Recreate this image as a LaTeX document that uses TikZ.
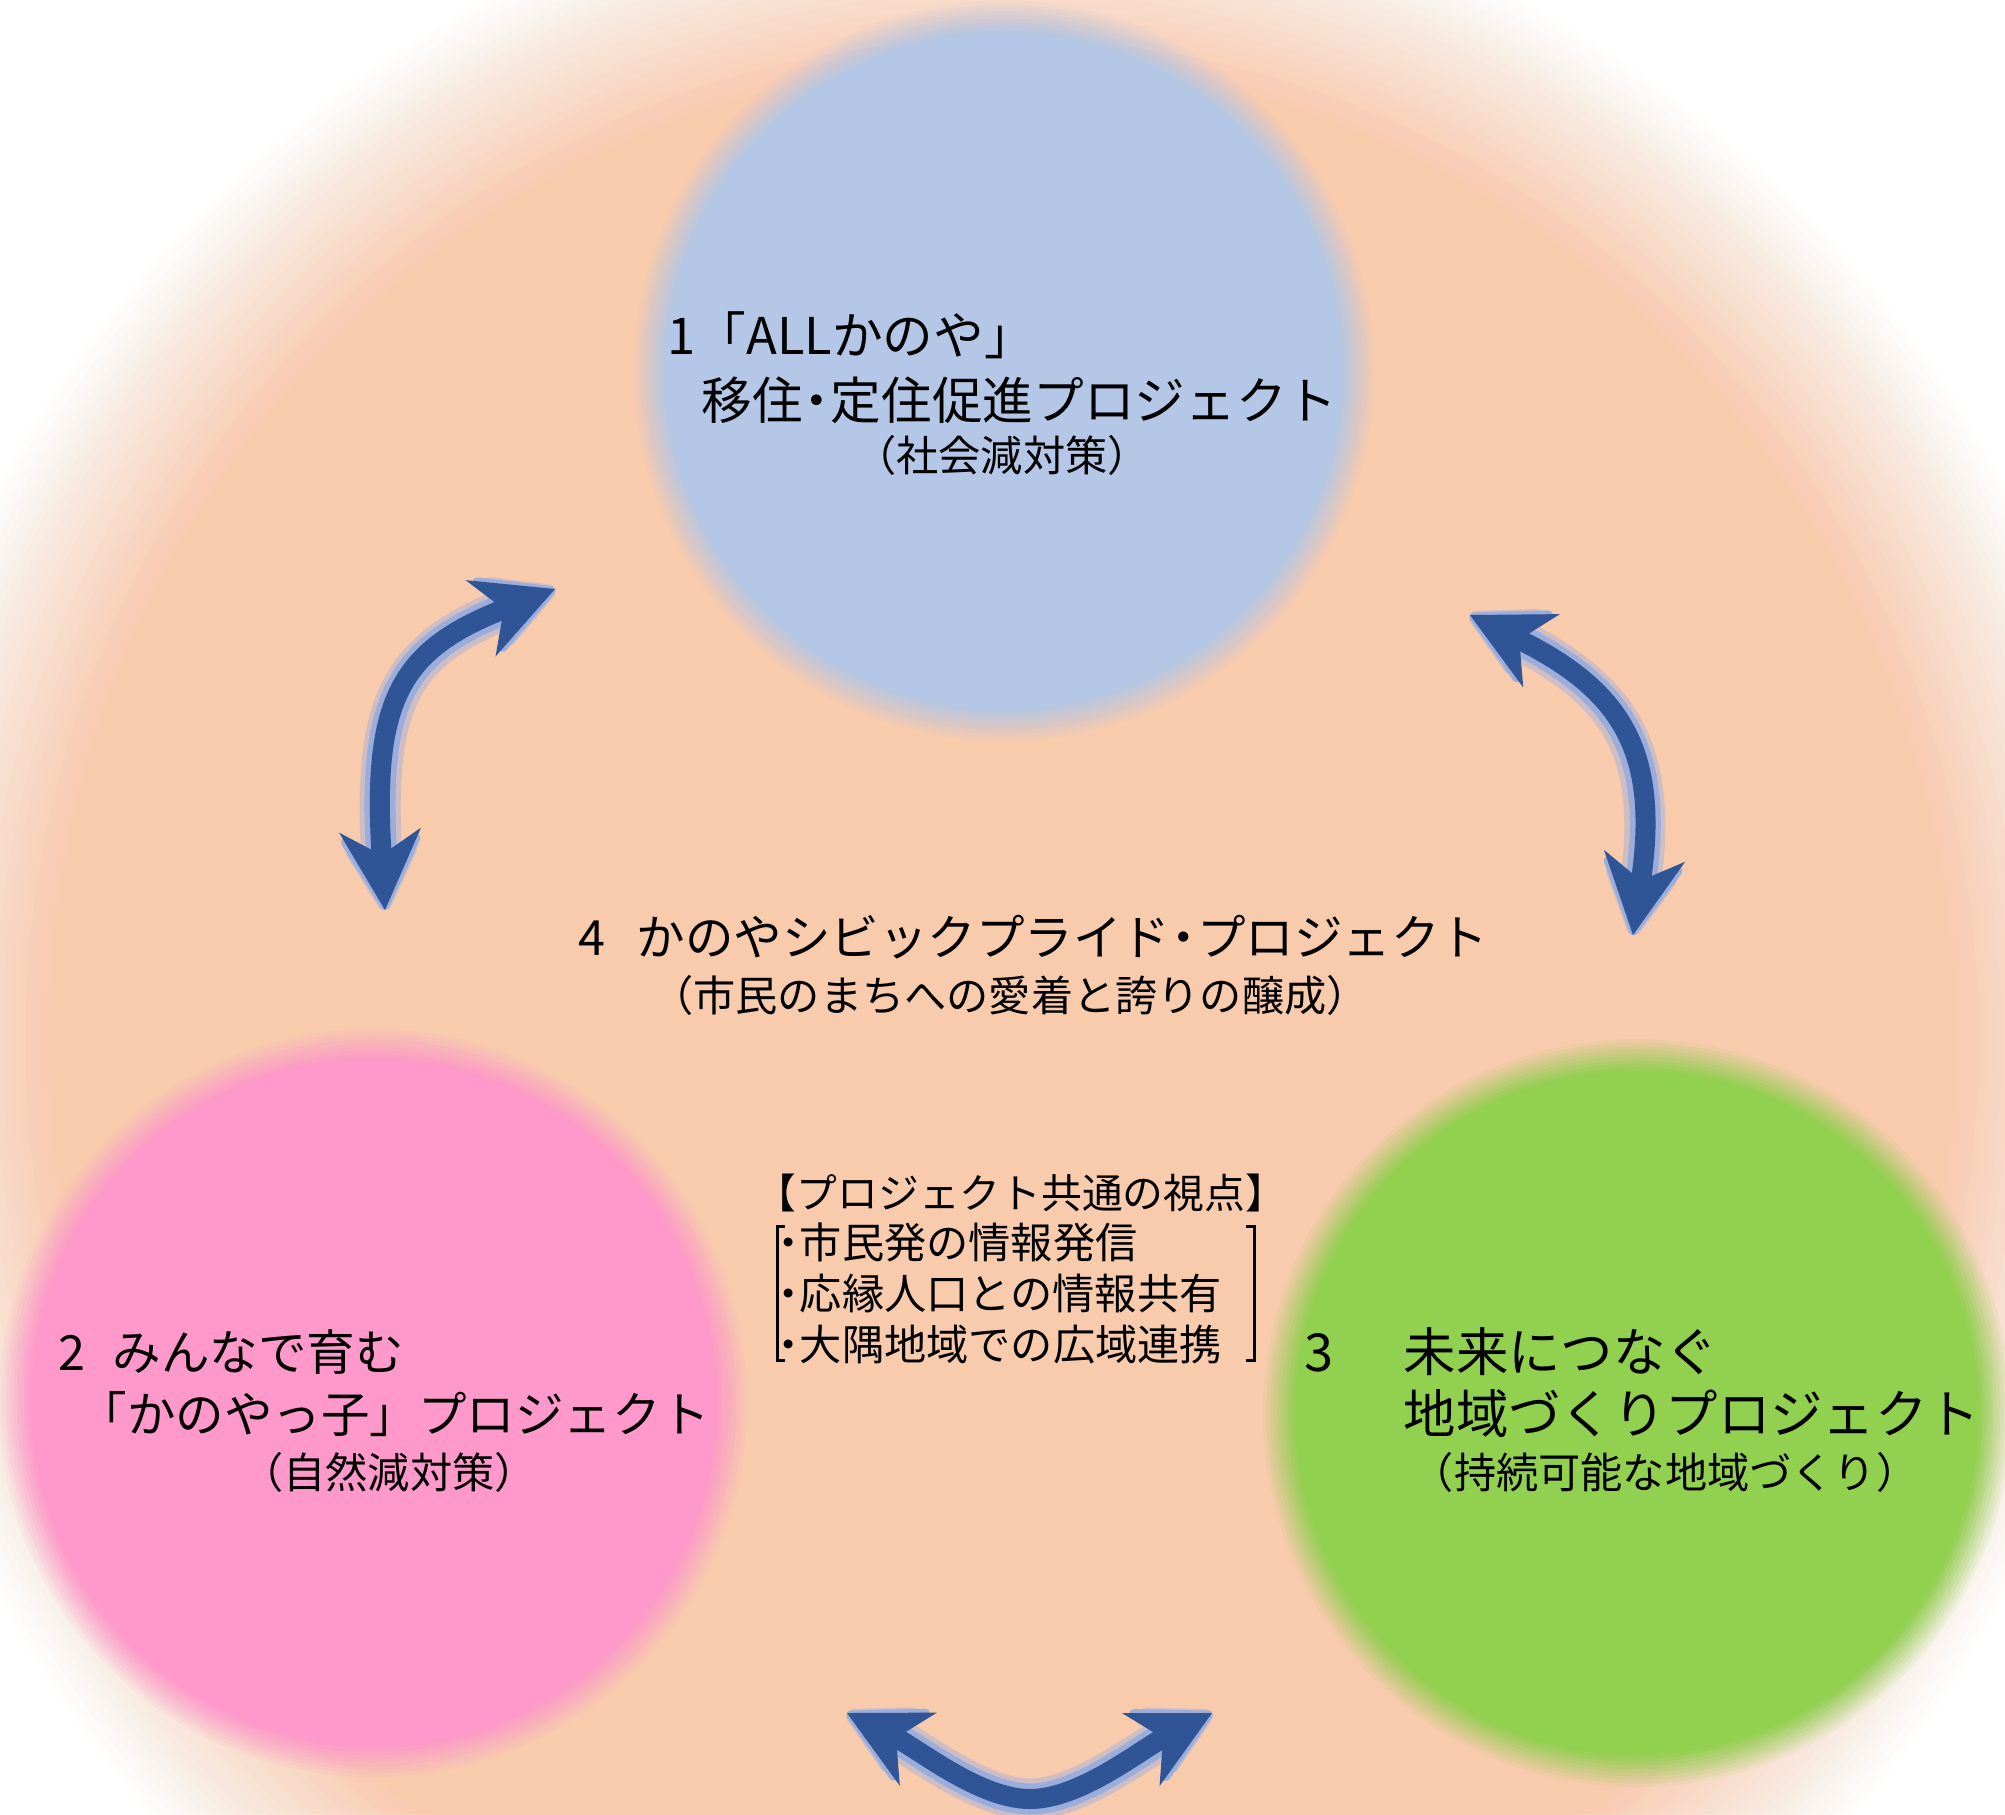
\documentclass[tikz,border=0pt]{standalone}
\usepackage{fontspec}
\setmainfont{Noto Sans CJK JP}
\usetikzlibrary{arrows.meta}
\definecolor{peach}{HTML}{F8CBAD}
\definecolor{cblue}{HTML}{B4C7E7}
\definecolor{cpink}{HTML}{FF99CC}
\definecolor{cgreen}{HTML}{92D050}
\definecolor{arrowc}{HTML}{2F5597}
\definecolor{glowc}{HTML}{9AADDB}
\newcommand\mysoftdisc[7]{%
  \foreach \j in {1,...,#7}{%
    \pgfmathsetmacro\myop{1/\j}%
    \pgfmathsetmacro\myrx{#3-#6+(\j-1)*2*#6/(#7-1)}%
    \pgfmathsetmacro\myry{#4-#6+(\j-1)*2*#6/(#7-1)}%
    \fill[#5, fill opacity=\myop] (#1,#2) ellipse [x radius=\myrx, y radius=\myry];
  }}
\newcommand\nd{\makebox[0.55em][c]{・}}
\tikzset{
  big/.style={font=\fontsize{13.8pt}{16pt}\selectfont, inner sep=0pt, anchor=west, text height=12.1pt, text depth=1.7pt},
  bigt/.style={big, font=\fontsize{14.4pt}{17pt}\selectfont, text height=12.7pt, text depth=1.8pt},
  bigr/.style={big, font=\fontsize{14.9pt}{17pt}\selectfont, text height=13.1pt, text depth=1.8pt},
  small/.style={font=\fontsize{12pt}{14pt}\selectfont, inner sep=0pt, anchor=west, text height=10.6pt, text depth=1.4pt},
  boxtitle/.style={small, font=\fontsize{11.6pt}{14pt}\selectfont},
  bracketline/.style={draw=black, line width=0.3mm},
  glowouter/.style={draw=glowc!45!peach, line width=4.1mm, line cap=round,
    arrows={Stealth[length=8.6mm,width=9.2mm,inset=2.6mm,line width=1.9mm,round]-Stealth[length=8.6mm,width=9.2mm,inset=2.6mm,line width=1.9mm,round]}},
  glowarrow/.style={draw=glowc, line width=3.1mm, line cap=round,
    arrows={Stealth[length=8.6mm,width=9.2mm,inset=2.6mm,line width=0.9mm,round]-Stealth[length=8.6mm,width=9.2mm,inset=2.6mm,line width=0.9mm,round]}},
  mainarrow/.style={draw=arrowc, line width=2mm,
    arrows={Stealth[length=8mm,width=8.2mm,inset=2.5mm,line width=0pt]-Stealth[length=8mm,width=8.2mm,inset=2.5mm,line width=0pt]}},
}
\begin{document}
\begin{tikzpicture}[x={(0.01cm,0)}, y={(0,-0.01cm)}]
\useasboundingbox (0,0) rectangle (2005,1814);
\fill[white] (0,0) rectangle (2005,1814);
\begin{scope}
\clip (0,0) rectangle (2005,1814);
% large background ellipse
\mysoftdisc{1002}{1040}{1035}{1060}{peach}{105}{28}
% circles
\coordinate (c1) at (1004,371);
\coordinate (c2) at (373,1403);
\coordinate (c3) at (1637,1413);
\mysoftdisc{1004}{371}{354}{354}{cblue}{16}{10}
\mysoftdisc{373}{1403}{358}{358}{cpink}{16}{10}
\mysoftdisc{1637}{1413}{358}{358}{cgreen}{16}{10}
\end{scope}
% arrow end points
\coordinate (L1) at (555,589);
\coordinate (L2) at (385,910);
\coordinate (R1) at (1470,615);
\coordinate (R2) at (1633,935);
\coordinate (B1) at (847,1713);
\coordinate (B2) at (1212,1713);
\coordinate (Bm) at (1030,1799);
% glow
\foreach \g in {glowouter,glowarrow}{
\draw[\g] (L2) .. controls (372,700) and (400,650) .. (L1);
\draw[\g] (R1) .. controls (1620,690) and (1660,750) .. (R2);
\draw[\g] (B1) .. controls (920,1750) and (980,1799) .. (Bm) .. controls (1080,1799) and (1140,1750) .. (B2);
}
% arrows
\draw[mainarrow] (L2) .. controls (372,700) and (400,650) .. (L1);
\draw[mainarrow] (R1) .. controls (1620,690) and (1660,750) .. (R2);
\draw[mainarrow] (B1) .. controls (920,1750) and (980,1799) .. (Bm) .. controls (1080,1799) and (1140,1750) .. (B2);
% texts
\node[bigt] (t1a) at (667,335) {1「ALLかのや」};
\node[bigt] (t1b) at (701,400) {移住\nd 定住促進プロジェクト};
\node[small, anchor=center] (t1c) at (1002,455) {（社会減対策）};
\node[big] (t4a) at (578,937) {\makebox[0.58cm][l]{4}かのやシビックプライド\nd プロジェクト};
\node[small, anchor=center] (t4b) at (1010,995) {（市民のまちへの愛着と誇りの醸成）};
\node[boxtitle, anchor=center] (tb0) at (1021,1192) {【プロジェクト共通の視点】};
\node[small] (tb1) at (776,1242) {\nd 市民発の情報発信};
\node[small] (tb2) at (776,1293) {\nd 応縁人口との情報共有};
\node[small] (tb3) at (776,1344) {\nd 大隅地域での広域連携};
\node[big] (t2a) at (58,1352) {\makebox[0.54cm][l]{2}みんなで育む};
\node[big] (t2b) at (78,1414) {「かのやっ子」プロジェクト};
\node[small, anchor=center] (t2c) at (389,1472) {（自然減対策）};
\node[bigr] (t3a) at (1304,1352) {\makebox[0.99cm][l]{3}未来につなぐ};
\node[bigr] (t3b) at (1403,1414) {地域づくりプロジェクト};
\node[small, anchor=center] (t3c) at (1665,1472) {（持続可能な地域づくり）};
% brackets
\draw[bracketline] (785,1226) -- (777,1226) -- (777,1360) -- (785,1360);
\draw[bracketline] (1246,1226) -- (1254,1226) -- (1254,1360) -- (1246,1360);
\end{tikzpicture}
\end{document}
